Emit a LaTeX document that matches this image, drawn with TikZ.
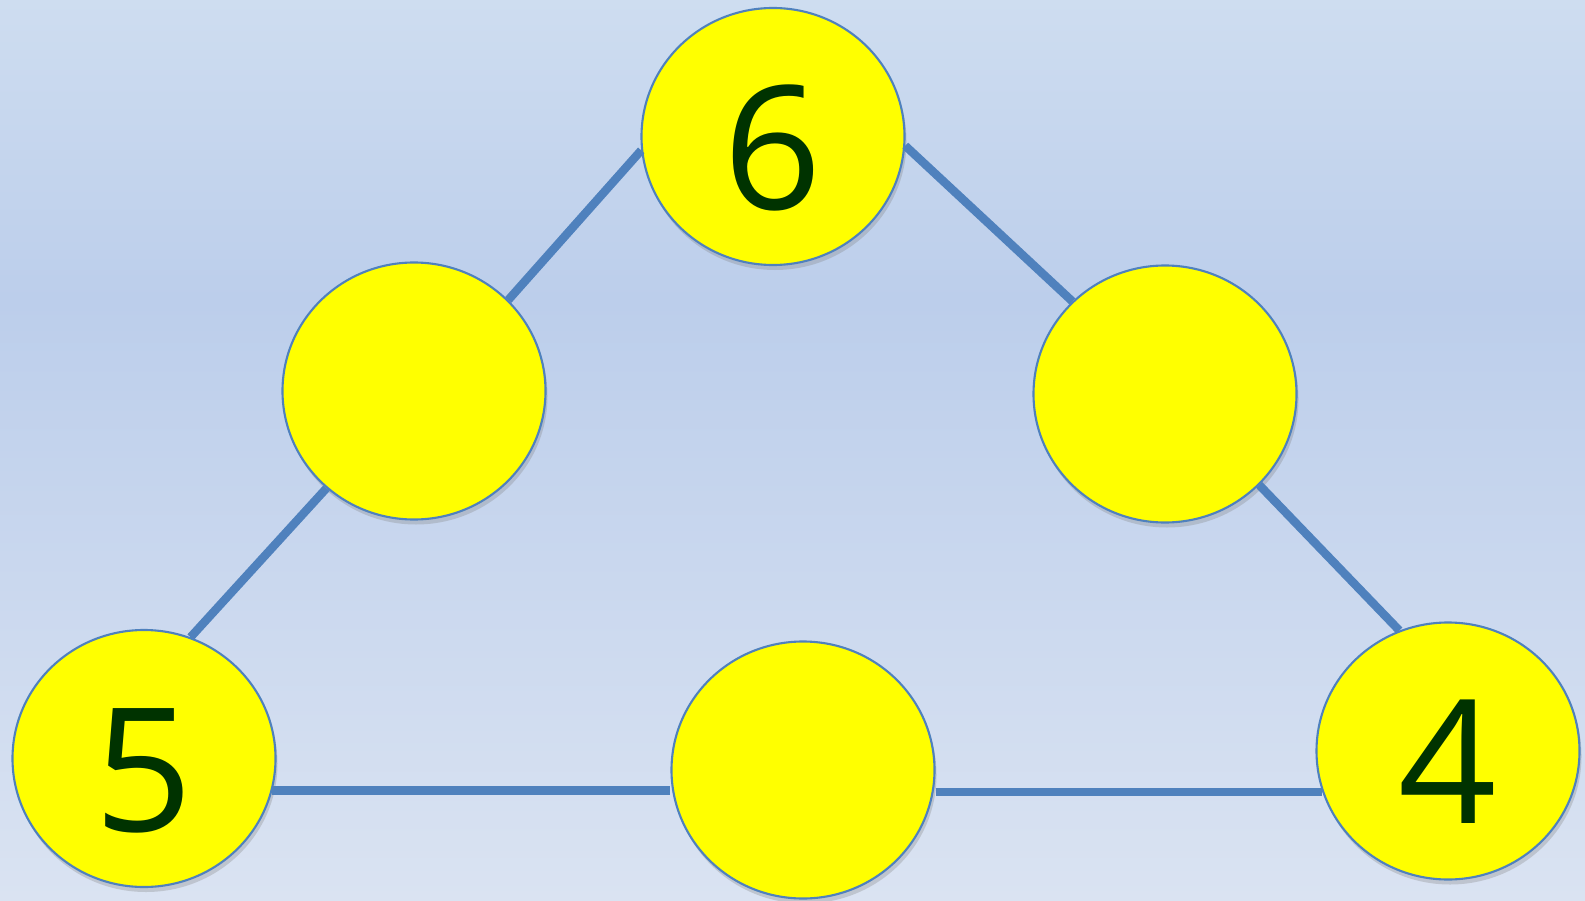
\documentclass[tikz,border=0pt]{standalone}
\usepackage{fontspec}
\setmainfont{Open Sans}
\usepackage{xcolor}
\usepackage{tikz}
\usetikzlibrary{shapes.geometric,shadows}
\definecolor{skytop}{RGB}{206,221,240}
\definecolor{skymid}{RGB}{188,206,235}
\definecolor{skylow}{RGB}{218,227,242}
\definecolor{linkblue}{RGB}{79,129,189}
\definecolor{spotyellow}{RGB}{255,255,0}
\definecolor{digitgreen}{RGB}{0,51,0}

\begin{document}
\begin{tikzpicture}[
  spot/.style={ellipse, draw=linkblue, line width=0.6pt, fill=spotyellow,
               minimum width=2.63cm, minimum height=2.57cm,
               text height=1.45cm, text depth=0pt,
               font=\fontsize{49}{54}\selectfont, text=digitgreen,
               drop shadow={opacity=0.3, shadow xshift=0.02cm, shadow yshift=-0.05cm}},
  link/.style={draw=linkblue, line width=2.4pt},
]
% Canvas 15.85 x 9 cm, background band darkest about one third down
\useasboundingbox (0,0) rectangle (15.85,9);
\shade[top color=skytop, bottom color=skymid] (0,6) rectangle (15.85,9);
\shade[top color=skymid, bottom color=skylow] (0,0) rectangle (15.85,6);

% --- Six spots on the triangle: corners carry the given numbers
\node[spot] (top)  at (7.73,7.635) {6};
\node[spot] (left) at (4.14,5.09)  {};
\node[spot] (rght) at (11.65,5.06) {};
\node[spot] (bl)   at (1.44,1.415) {5};
\node[spot] (bm)   at (8.03,1.30)  {};
\node[spot] (br)   at (14.48,1.49) {4};

% --- Sides, border to border
\draw[link] (top.186.7) -- (left.44);
\draw[link] (top.356)   -- (rght.135);
\draw[link] (left.228)  -- (bl.69);
\draw[link] (rght.316)  -- (br.112);
\draw[link] (bl.346)    -- (bl.346 -| bm.west);
\draw[link] (bm.east |- br.198) -- (br.198);
\end{tikzpicture}
\end{document}
